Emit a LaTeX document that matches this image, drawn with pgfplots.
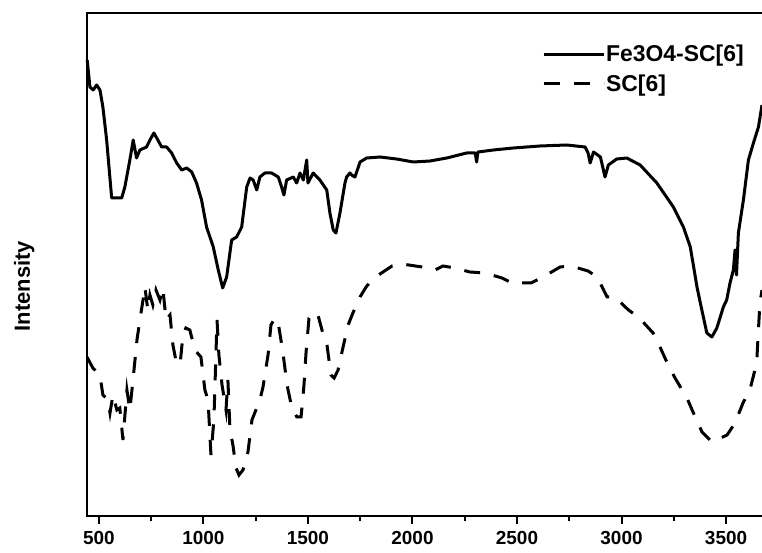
\documentclass[border=0pt]{standalone}
\usepackage{fontspec}
\setmainfont{Liberation Sans}
\usepackage{pgfplots}
\pgfplotsset{compat=1.18}
\usetikzlibrary{calc}

% intensities in arbitrary units
\pgfplotstableread{
w y
444 493
457 466
473 463
489 468
505 463
519 446
537 413
561 355
585 355
609 355
624 366
648 393
664 413
680 395
696 403
728 406
744 413
763 420
782 413
800 406
824 406
848 400
872 390
896 383
920 385
944 381
967 370
991 353
1015 326
1047 306
1071 283
1092 265
1111 276
1135 313
1159 316
1183 326
1207 366
1223 375
1238 373
1255 363
1270 376
1294 380
1326 380
1358 376
1374 366
1385 358
1398 373
1430 376
1446 370
1462 380
1478 373
1494 393
1500 370
1525 380
1557 373
1590 363
1605 340
1621 323
1634 320
1653 340
1677 370
1685 376
1701 380
1709 378
1725 376
1749 391
1781 395
1845 396
1924 394
2004 391
2084 392
2164 395
2259 400
2300 400
2307 391
2313 401
2387 403
2482 405
2610 407
2738 408
2826 406
2840 400
2850 390
2866 401
2899 396
2921 376
2937 388
2977 394
3025 395
3089 388
3169 370
3248 346
3296 326
3329 306
3361 266
3377 250
3408 220
3432 216
3456 225
3487 246
3503 253
3519 270
3535 283
3543 303
3550 278
3559 320
3583 353
3607 393
3631 410
3655 426
3672 448
}\fesc

\pgfplotstableread{
w y
443 196
471 185
505 178
519 158
543 153
553 140
567 158
586 143
600 145
615 113
634 163
648 143
663 173
682 213
696 233
711 253
720 266
734 243
744 258
758 248
773 263
792 253
806 265
821 233
840 238
854 208
868 193
888 188
902 218
916 225
935 223
959 203
988 196
1007 163
1022 153
1036 98
1050 133
1065 233
1074 198
1089 168
1108 143
1117 173
1127 123
1141 108
1156 85
1170 78
1189 83
1213 101
1232 133
1251 143
1270 153
1285 166
1309 198
1323 228
1342 235
1357 231
1380 201
1400 168
1423 145
1447 136
1467 136
1481 168
1491 201
1505 235
1529 241
1548 238
1567 223
1591 208
1610 178
1625 175
1644 183
1668 206
1692 228
1715 240
1749 256
1778 266
1806 273
1830 277
1902 287
1950 289
2046 286
2108 283
2146 287
2203 285
2275 281
2347 280
2428 275
2476 270
2567 270
2625 276
2706 286
2759 287
2840 282
2883 276
2931 256
2969 256
3033 243
3081 236
3151 220
3184 206
3223 188
3256 175
3313 155
3342 141
3385 121
3433 111
3505 118
3543 130
3581 150
3614 163
3638 183
3648 196
3653 216
3662 250
3672 263
}\sc

\begin{document}
\begin{tikzpicture}
\begin{axis}[
  scale only axis,
  width=675bp, height=503bp,
  xmin=443, xmax=3672, ymin=37, ymax=540,
  clip=false,
  axis line style={draw=none},
  xtick={500,1000,...,3500},
  minor xtick={750,1250,...,3250},
  xtick pos=left,
  ytick=\empty,
  tick align=outside,
  major tick length=8bp, minor tick length=5bp,
  every tick/.style={black, line width=2bp},
  /pgf/number format/1000 sep={},
  /pgf/number format/assume math mode=true,
  xticklabel style={font=\bfseries\fontsize{19}{19}\selectfont, yshift=-4bp},
  ylabel={Intensity},
  ylabel style={font=\bfseries\fontsize{22}{22}\selectfont, at={(axis description cs:-0.093,0.457)}, anchor=center},
  legend style={draw=none, fill=none, at={(axis description cs:0.674,0.938)}, anchor=north west,
    font=\bfseries\fontsize{23}{23}\selectfont, inner sep=0pt, row sep=9bp,
    nodes={inner sep=1bp}},
  legend cell align=left,
  legend image code/.code={\draw[#1] (0bp,0bp) -- (60bp,0bp);},
]
\addplot[black, line width=3bp, line join=round] table[x=w,y=y] {\fesc};
\addplot[black, line width=3bp, dash pattern=on 16bp off 14bp] table[x=w,y=y] {\sc};
\legend{Fe3O4-SC[6],SC[6]}
\draw[line width=2.5bp] (rel axis cs:1,1) -- (rel axis cs:0,1) -- (rel axis cs:0,0) -- (rel axis cs:1,0);
\end{axis}
\pgfresetboundingbox
\path[use as bounding box] ($(current axis.south west)+(-87bp,-37bp)$) rectangle ($(current axis.north east)+(0bp,13bp)$);
\end{tikzpicture}
\end{document}
